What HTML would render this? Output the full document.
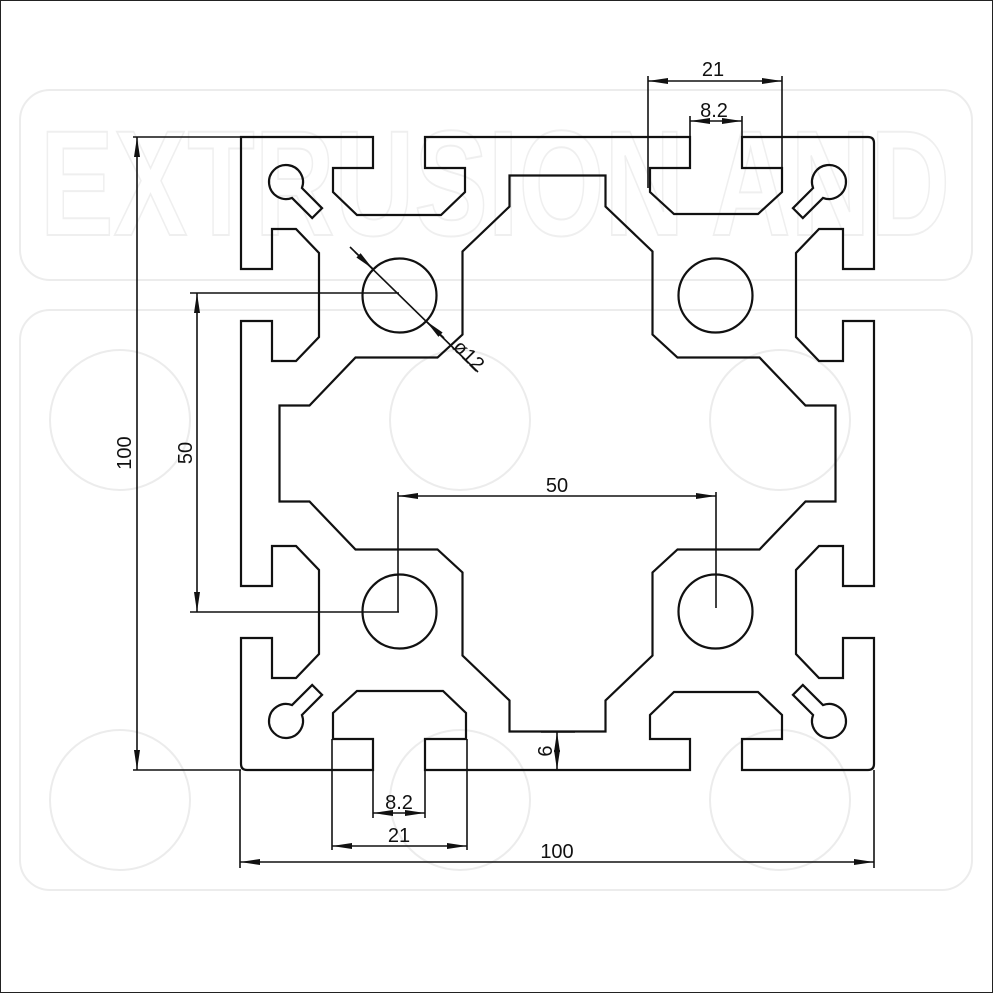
<!DOCTYPE html>
<html><head><meta charset="utf-8"><style>
html,body{margin:0;padding:0;background:#fff}
svg{display:block}
text{font-family:"Liberation Sans",sans-serif;font-size:20px;fill:#111}
</style></head><body>
<svg width="993" height="993" viewBox="0 0 993 993" xmlns="http://www.w3.org/2000/svg">
<defs>
<marker id="a" viewBox="0 0 20 8" refX="20" refY="4" markerWidth="20" markerHeight="8" markerUnits="userSpaceOnUse" orient="auto-start-reverse"><path d="M0,1 L20,4 L0,7 Z" fill="#111"/></marker>
</defs>
<rect x="0.5" y="0.5" width="992" height="992" fill="#fff" stroke="#222" stroke-width="1"/>
<g fill="none" stroke="#ececec" stroke-width="2">
<text x="40" y="235" style="font-size:150px;font-weight:bold;fill:none;stroke:#efefef;stroke-width:2" textLength="910" lengthAdjust="spacingAndGlyphs">EXTRUSION AND</text>
<circle cx="120" cy="420" r="70"/><circle cx="460" cy="420" r="70"/><circle cx="780" cy="420" r="70"/>
<circle cx="120" cy="800" r="70"/><circle cx="460" cy="800" r="70"/><circle cx="780" cy="800" r="70"/>
<rect x="20" y="90" width="952" height="190" rx="30"/>
<rect x="20" y="310" width="952" height="580" rx="30"/>
</g>
<g fill="none" stroke="#111" stroke-width="2.2" stroke-linejoin="miter">
<path d="M241,137 L373,137 L373,168 L333,168 L333,192 L357,215 L441,215 L465,192 L465,168 L425,168 L425,137
L690,137 L690,168 L650,168 L650,192 L674,214 L758,214 L782,192 L782,168 L742,168 L742,137 L868,137 Q874,137 874,143
L874,269 L843,269 L843,229 L819,229 L796,253 L796,337 L819,361 L843,361 L843,321 L874,321
L874,586 L843,586 L843,546 L819,546 L796,570 L796,654 L819,678 L843,678 L843,638 L874,638 L874,764 Q874,770 868,770
L742,770 L742,739 L782,739 L782,715 L758,692 L674,692 L650,715 L650,739 L690,739 L690,770
L425,770 L425,739 L466,739 L466,713 L443,691 L357,691 L333,713 L333,739 L373,739 L373,770 L247,770 Q241,770 241,764
L241,638 L272,638 L272,678 L296,678 L319,654 L319,570 L296,546 L272,546 L272,586 L241,586
L241,321 L272,321 L272,361 L296,361 L319,337 L319,253 L296,229 L272,229 L272,269 L241,269 Z"/>
<path d="M509.5,175.5 L509.5,206.5 L462.5,251.5 L462.5,334.5 L437.5,357.5 L355.5,357.5 L309.5,405.5 L279.5,405.5
L279.5,501.5 L309.5,501.5 L355.5,549.5 L437.5,549.5 L462.5,572.5 L462.5,655.5 L509.5,700.5 L509.5,731.5
L605.5,731.5 L605.5,700.5 L652.5,655.5 L652.5,572.5 L677.5,549.5 L759.5,549.5 L805.5,501.5 L835.5,501.5
L835.5,405.5 L805.5,405.5 L759.5,357.5 L677.5,357.5 L652.5,334.5 L652.5,251.5 L605.5,206.5 L605.5,175.5 Z"/>
<circle cx="399.5" cy="295.5" r="37"/>
<circle cx="715.5" cy="295.5" r="37"/>
<circle cx="399.5" cy="611.5" r="37"/>
<circle cx="715.5" cy="611.5" r="37"/>
<path transform="translate(286,182) rotate(45)" d="M15.5,-7 L44,-7 L44,7 L15.5,7 A17,17 0 1 1 15.5,-7 Z"/>
<path transform="translate(829,182) rotate(135)" d="M15.5,-7 L44,-7 L44,7 L15.5,7 A17,17 0 1 1 15.5,-7 Z"/>
<path transform="translate(286,721) rotate(-45)" d="M15.5,-7 L44,-7 L44,7 L15.5,7 A17,17 0 1 1 15.5,-7 Z"/>
<path transform="translate(829,721) rotate(-135)" d="M15.5,-7 L44,-7 L44,7 L15.5,7 A17,17 0 1 1 15.5,-7 Z"/>
</g>
<g stroke="#111" stroke-width="1.6" fill="none">
<line x1="133" y1="137" x2="241" y2="137"/>
<line x1="133" y1="770" x2="241" y2="770"/>
<line x1="190" y1="293" x2="399" y2="293"/>
<line x1="190" y1="612" x2="399" y2="612"/>
<line x1="398" y1="492" x2="398" y2="612"/>
<line x1="716" y1="492" x2="716" y2="608"/>
<line x1="648" y1="76" x2="648" y2="188"/>
<line x1="782" y1="76" x2="782" y2="188"/>
<line x1="690" y1="116" x2="690" y2="137"/>
<line x1="742" y1="116" x2="742" y2="137"/>
<line x1="373" y1="770" x2="373" y2="818"/>
<line x1="425" y1="770" x2="425" y2="818"/>
<line x1="332" y1="739" x2="332" y2="850"/>
<line x1="467" y1="739" x2="467" y2="850"/>
<line x1="240" y1="770" x2="240" y2="868"/>
<line x1="874" y1="770" x2="874" y2="868"/>
<line x1="541" y1="732" x2="575" y2="732"/>
<line x1="137" y1="137" x2="137" y2="770" marker-start="url(#a)" marker-end="url(#a)"/>
<line x1="197" y1="293" x2="197" y2="612" marker-start="url(#a)" marker-end="url(#a)"/>
<line x1="398" y1="496" x2="716" y2="496" marker-start="url(#a)" marker-end="url(#a)"/>
<line x1="648" y1="81" x2="782" y2="81" marker-start="url(#a)" marker-end="url(#a)"/>
<line x1="690" y1="121" x2="742" y2="121" marker-start="url(#a)" marker-end="url(#a)"/>
<line x1="373" y1="813" x2="425" y2="813" marker-start="url(#a)" marker-end="url(#a)"/>
<line x1="332" y1="846" x2="467" y2="846" marker-start="url(#a)" marker-end="url(#a)"/>
<line x1="240" y1="862" x2="874" y2="862" marker-start="url(#a)" marker-end="url(#a)"/>
<line x1="557" y1="732" x2="557" y2="770" marker-start="url(#a)" marker-end="url(#a)"/>
<line x1="350" y1="247" x2="478" y2="372"/>
<line x1="426" y1="321" x2="444" y2="338" marker-start="url(#a)"/>
<line x1="373" y1="269" x2="355" y2="252" marker-start="url(#a)"/>
</g>
<g>
<text x="713" y="76" text-anchor="middle">21</text>
<text x="714" y="117" text-anchor="middle">8.2</text>
<text x="399" y="809" text-anchor="middle">8.2</text>
<text x="399" y="842" text-anchor="middle">21</text>
<text x="557" y="858" text-anchor="middle">100</text>
<text x="557" y="492" text-anchor="middle">50</text>
<text transform="translate(131,453) rotate(-90)" text-anchor="middle">100</text>
<text transform="translate(192,453) rotate(-90)" text-anchor="middle">50</text>
<text transform="translate(552,751) rotate(-90)" text-anchor="middle">6</text>
<text transform="translate(452,348) rotate(45)">ø12</text>
</g>
</svg>
</body></html>
